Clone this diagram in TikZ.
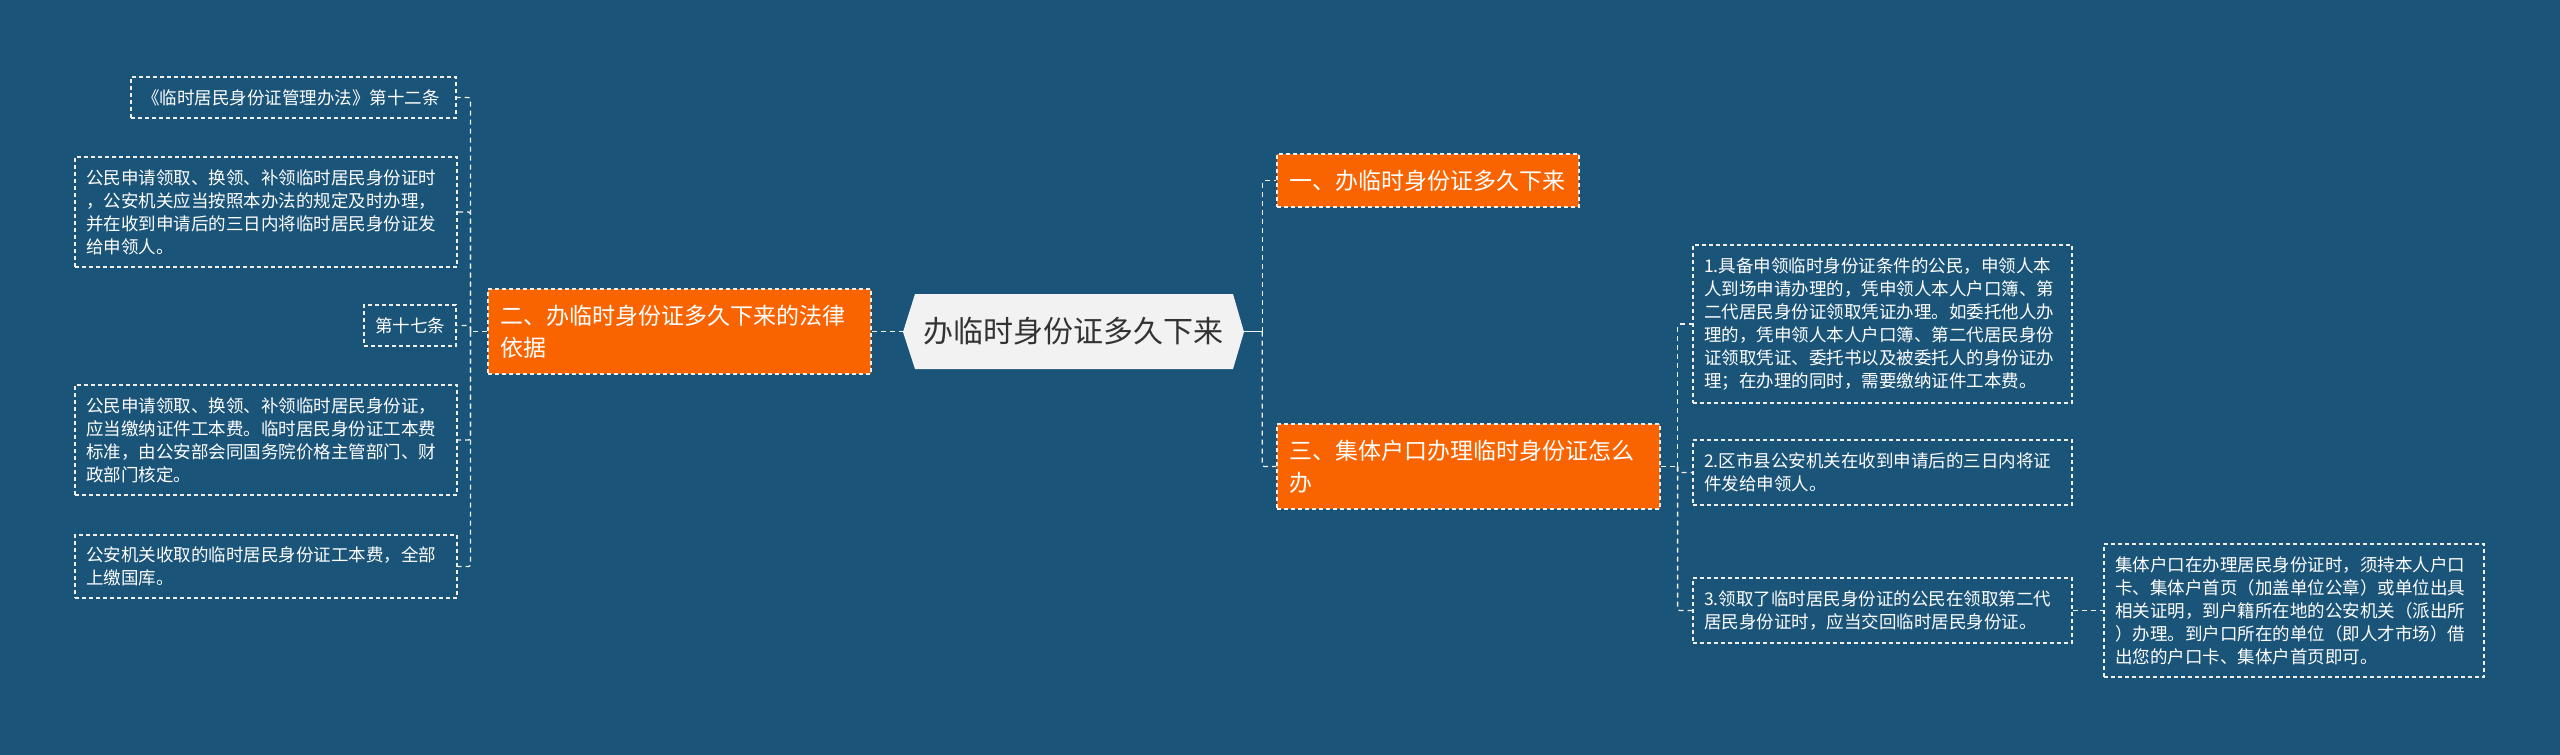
\documentclass[tikz,border=0pt]{standalone}
\usepackage{fontspec}
\newfontfamily\cjk{Noto Sans CJK SC}
\definecolor{bgc}{HTML}{1A5479}
\definecolor{orangec}{HTML}{FA6400}
\definecolor{centerc}{HTML}{F2F2F2}
\definecolor{ctext}{HTML}{333333}
\definecolor{linec}{HTML}{F0F0F0}
\begin{document}
\begin{tikzpicture}[x=1pt,y=-1pt,
  leaf/.style={draw=linec, dash pattern=on 4pt off 3pt, line width=1.1pt, text=white,
    font=\cjk\fontsize{17.5}{23}\selectfont, align=left, inner xsep=11pt, inner ysep=0pt},
  branch/.style={draw=linec, fill=orangec, dash pattern=on 4pt off 3pt, line width=1.1pt, text=white,
    font=\cjk\fontsize{23}{32}\selectfont, align=left, inner xsep=12pt, inner ysep=0pt},
  conn/.style={draw=linec, line width=1.4pt, dash pattern=on 5pt off 4pt, rounded corners=2pt},
  solidconn/.style={draw=linec, line width=1.8pt}
]
\useasboundingbox (0,0) rectangle (2560,755);
\fill[bgc] (0,0) rectangle (2560,755);

% center node
\fill[centerc] (903,332) -- (915,294) -- (1233,294) -- (1244,332) -- (1233,369) -- (915,369) -- cycle;
\node[minimum width=341pt, minimum height=75pt, inner sep=0pt, text=ctext,
  font=\cjk\fontsize{30}{36}\selectfont] (center) at (1073.5,331.5) {办临时身份证多久下来};

% left side
\node[branch, text width=359pt, minimum height=85pt] (two) at (679.5,331.5)
  {二、办临时身份证多久下来的法律\\依据};

\node[leaf, text width=303pt, minimum height=41pt] (A) at (293.5,97.5)
  {《临时居民身份证管理办法》第十二条};
\node[leaf, text width=360pt, minimum height=110pt] (B) at (266,212)
  {公民申请领取、换领、补领临时居民身份证时\\，公安机关应当按照本办法的规定及时办理，\\并在收到申请后的三日内将临时居民身份证发\\给申领人。};
\node[leaf, text width=70pt, minimum height=41pt] (C) at (410,325.5)
  {第十七条};
\node[leaf, text width=360pt, minimum height=110pt] (D) at (266,440)
  {公民申请领取、换领、补领临时居民身份证，\\应当缴纳证件工本费。临时居民身份证工本费\\标准，由公安部会同国务院价格主管部门、财\\政部门核定。};
\node[leaf, text width=360pt, minimum height=63pt] (E) at (266,566.5)
  {公安机关收取的临时居民身份证工本费，全部\\上缴国库。};

% right side
\node[branch, text width=278pt, minimum height=53pt] (one) at (1428,180.5)
  {一、办临时身份证多久下来};
\node[branch, text width=359pt, minimum height=85pt] (three) at (1468.5,466.5)
  {三、集体户口办理临时身份证怎么\\办};

\node[leaf, text width=357pt, minimum height=158pt] (r1) at (1882.5,324)
  {1.具备申领临时身份证条件的公民，申领人本\\人到场申请办理的，凭申领人本人户口簿、第\\二代居民身份证领取凭证办理。如委托他人办\\理的，凭申领人本人户口簿、第二代居民身份\\证领取凭证、委托书以及被委托人的身份证办\\理；在办理的同时，需要缴纳证件工本费。};
\node[leaf, text width=357pt, minimum height=65pt] (r2) at (1882.5,472.5)
  {2.区市县公安机关在收到申请后的三日内将证\\件发给申领人。};
\node[leaf, text width=357pt, minimum height=65pt] (r3) at (1882.5,610.5)
  {3.领取了临时居民身份证的公民在领取第二代\\居民身份证时，应当交回临时居民身份证。};
\node[leaf, text width=358pt, minimum height=133pt] (r4) at (2294,610.5)
  {集体户口在办理居民身份证时，须持本人户口\\卡、集体户首页（加盖单位公章）或单位出具\\相关证明，到户籍所在地的公安机关（派出所\\）办理。到户口所在的单位（即人才市场）借\\出您的户口卡、集体户首页即可。};

% connectors
\draw[conn] (two.east) -- (center.west);
\draw[solidconn] (center.east) -- ++(18,0) coordinate (rt);
\draw[conn] (rt) |- (one.west);
\draw[conn] (rt) |- (three.west);

\draw[conn] (two.west) -- ++(-17,0) coordinate (lt);
\foreach \n in {A,B,C,D,E} { \draw[conn] (lt) |- (\n.east); }

\draw[conn] (three.east) -- ++(17,0) coordinate (st);
\foreach \n in {r1,r2,r3} { \draw[conn] (st) |- (\n.west); }

\draw[conn] (r3.east) -- (r4.west);
\end{tikzpicture}
\end{document}
